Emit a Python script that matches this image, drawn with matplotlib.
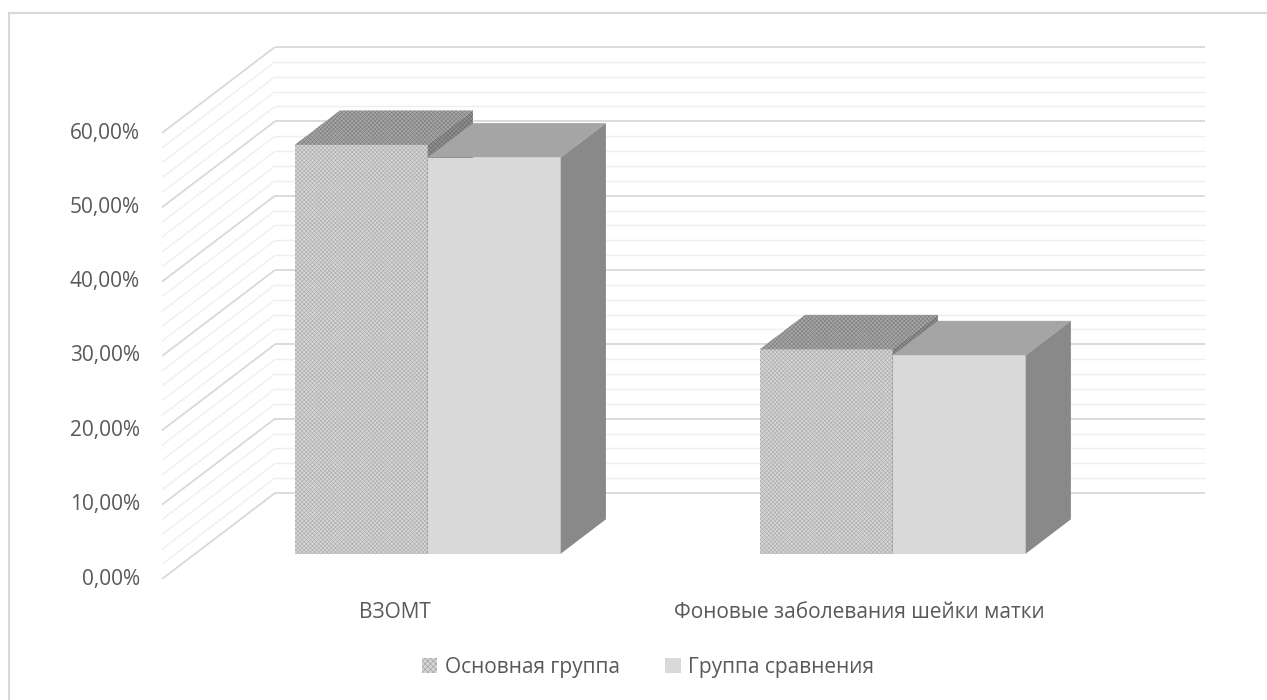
import matplotlib
matplotlib.use('Agg')
import matplotlib.pyplot as plt
from matplotlib.patches import Polygon, Patch
from matplotlib.lines import Line2D
from matplotlib import transforms

plt.rcParams['font.family'] = ['Open Sans', 'DejaVu Sans']
plt.rcParams['hatch.linewidth'] = 0.45

categories = ['ВЗОМТ', 'Фоновые заболевания шейки матки']
series_names = ['Основная группа', 'Группа сравнения']
main_group = [55.0, 27.5]
compare_group = [53.3, 26.7]
y_ticks = [0, 10, 20, 30, 40, 50, 60]
y_labels = ['0,00%', '10,00%', '20,00%', '30,00%', '40,00%', '50,00%', '60,00%']

fig = plt.figure(figsize=(12.67, 7), dpi=100)
# axes = back wall of the 3d box
ax = fig.add_axes([275 / 1267, 207 / 700, 930 / 1267, 446 / 700])
ax.set_xlim(-0.5, 1.5)
ax.set_ylim(0, 60)
ax.axis('off')

# depth of the box, in data units (back -> front)
DX = -113 / 465.0
DY = -86 * 60 / 446.0
F_FRONT = 0.706   # depth position of bar front faces
F_BACK = 0.306    # depth position of bar back faces
BAR_W = 0.286

txt = '#595959'

# back wall and left wall gridlines
for y in range(0, 62, 2):
    major = y % 10 == 0
    c = '#d9d9d9' if major else '#efefef'
    lw = 1.3 if major else 1.0
    ax.plot([-0.5, 1.5], [y, y], color=c, lw=lw, zorder=1, clip_on=False,
            solid_capstyle='butt')
    ax.plot([-0.5, -0.5 + DX], [y, y + DY], color=c, lw=lw, zorder=1,
            clip_on=False, solid_capstyle='butt')

# y tick labels at the front edge of the left wall
lab_tr = transforms.offset_copy(ax.transData, fig=fig, x=-22, y=0, units='dots')
for v, s in zip(y_ticks, y_labels):
    ax.text(-0.5 + DX, v + DY, s, transform=lab_tr, ha='right', va='center',
            fontsize=15, color=txt)

# category labels below the floor front edge
cat_tr = transforms.offset_copy(ax.transData, fig=fig, x=0, y=-33, units='dots')
for i, name in enumerate(categories):
    ax.text(i + DX, DY, name, transform=cat_tr, ha='center', va='center',
            fontsize=15, color=txt)


def pt(x, y, f):
    return (x + f * DX, y + f * DY)


def bar3d(x0, x1, h, z, front, top, side):
    faces = [
        ([pt(x0, 0, F_FRONT), pt(x1, 0, F_FRONT), pt(x1, h, F_FRONT), pt(x0, h, F_FRONT)], front),
        ([pt(x0, h, F_FRONT), pt(x1, h, F_FRONT), pt(x1, h, F_BACK), pt(x0, h, F_BACK)], top),
        ([pt(x1, 0, F_FRONT), pt(x1, 0, F_BACK), pt(x1, h, F_BACK), pt(x1, h, F_FRONT)], side),
    ]
    for verts, style in faces:
        ax.add_patch(Polygon(verts, closed=True, clip_on=False, zorder=z, lw=0, **style))


s1_front = dict(facecolor='#d6d6d6', edgecolor='#adadad', hatch='xxxxxxxx')
s1_top = dict(facecolor='#a6a6a6', edgecolor='#7f7f7f', hatch='xxxxxxxx')
s1_side = dict(facecolor='#8f8f8f', edgecolor='#6e6e6e', hatch='xxxxxxxx')
s2_front = dict(facecolor='#d9d9d9')
s2_top = dict(facecolor='#a5a5a5')
s2_side = dict(facecolor='#898989')

z = 3
for i in range(len(categories)):
    bar3d(i - BAR_W, i, main_group[i], z, s1_front, s1_top, s1_side)
    bar3d(i, i + BAR_W, compare_group[i], z + 1, s2_front, s2_top, s2_side)
    z += 2

handles = [Patch(facecolor='#d6d6d6', edgecolor='#a0a0a0', hatch='xxxxxx', lw=0),
           Patch(facecolor='#d9d9d9', lw=0)]
fig.legend(handles, series_names, loc='center', bbox_to_anchor=(648 / 1267, 1 - 667 / 700),
           ncol=2, frameon=False, fontsize=15, labelcolor=txt, handlelength=0.75,
           handleheight=0.75, handletextpad=0.35, columnspacing=2.2)

# chart area border (left and top edges)
fig.add_artist(Line2D([9 / 1267, 9 / 1267], [0, 1 - 13 / 700], color='#d9d9d9', lw=1.5))
fig.add_artist(Line2D([9 / 1267, 1], [1 - 13 / 700, 1 - 13 / 700], color='#d9d9d9', lw=1.5))

fig.savefig('out.png', dpi=100, facecolor='white')
